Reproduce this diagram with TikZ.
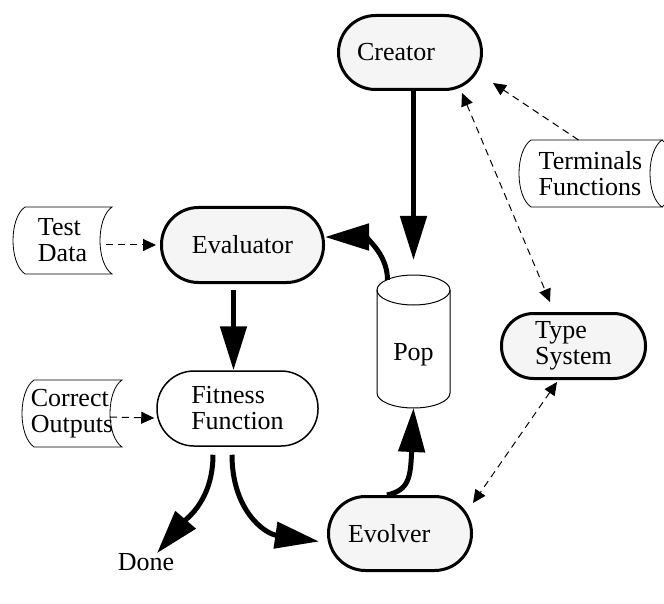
\documentclass[tikz,border=0pt]{standalone}
\usepackage{fontspec}
\setmainfont{Liberation Serif}
\usepackage{xcolor}
\usepackage{tikz}
\usetikzlibrary{arrows.meta,calc}
\definecolor{pillFill}{HTML}{F5F5F5}
% outline of a stored-data block drawn round a named node
\newcommand{\storeoutline}[1]{%
  \draw[storeline] ([xshift=12pt]#1.north west) -- (#1.north east)
    .. controls ([xshift=-16pt,yshift=-11pt]#1.north east) and ([xshift=-16pt,yshift=11pt]#1.south east) .. (#1.south east)
    -- ([xshift=12pt]#1.south west)
    .. controls ([xshift=-4pt,yshift=11pt]#1.south west) and ([xshift=-4pt,yshift=-11pt]#1.north west) .. cycle;}

\begin{document}
\begin{tikzpicture}[
    x=1pt,y=-1pt,
    txt/.style={font=\fontsize{26}{26}\selectfont},
    pill/.style={txt,draw,line width=3pt,fill=pillFill,rectangle,
                 rounded corners=37pt,inner sep=0pt},
    store/.style={txt,rectangle,inner sep=0pt,outer sep=0pt,align=left},
    storeline/.style={line width=0.8pt},
    popbody/.style={txt,rectangle,inner sep=0pt,outer sep=0pt,
                    minimum width=73pt,minimum height=118pt,
                    text height=27pt,text depth=5pt},
    bigarrow/.style={line width=5pt,-{Triangle[length=44pt,width=26pt]}},
    dasharrow/.style={line width=1pt,dash pattern=on 7pt off 5pt,
                      -{Triangle[length=13pt,width=12pt]}},
    dashboth/.style={dasharrow,
                     {Triangle[length=13pt,width=12pt]}-{Triangle[length=13pt,width=12pt]}}
  ]
  \useasboundingbox (0,0) rectangle (664,604);

  % processing stages
  \node[pill,minimum width=143pt,minimum height=74pt,text width=106pt,align=left]
    (creator) at (410,52.5) {Creator};
  \node[pill,minimum width=162pt,minimum height=75pt]
    (evaluator) at (242.5,245) {Evaluator};
  \node[pill,fill=white,line width=1.5pt,minimum width=161pt,minimum height=75pt,align=left]
    (fitness) at (237.5,408.5) {Fitness\\Function};
  \node[pill,minimum width=143pt,minimum height=74pt,text width=104pt,align=left]
    (evolver) at (400,533.5) {Evolver};
  \node[pill,minimum width=144pt,minimum height=65pt,rounded corners=32pt,align=left]
    (typesys) at (573.5,346) {Type\\System};
  \node[txt,inner sep=0pt] (done) at (146,562) {Done};

  % population store
  \node[popbody] (pop) at (413.5,349) {Pop};
  \draw[line width=1pt] (pop.north west) -- ([yshift=15pt]pop.south west)
    arc[start angle=180,end angle=360,x radius=36.5pt,y radius=15pt] -- (pop.north east);
  \draw[line width=1pt] (pop.north) ellipse [x radius=36.5pt,y radius=15pt];

  % data inputs
  \node[store,minimum width=99pt,minimum height=67pt] (testdata) at (62.5,240.5) {Test\\Data};
  \node[store,minimum width=100pt,minimum height=67pt] (correct) at (72,413.5) {Correct\\Outputs};
  \node[store,minimum width=143pt,minimum height=67pt] (terms) at (590.5,173.5) {Terminals\\Functions};
  \storeoutline{testdata}
  \storeoutline{correct}
  \storeoutline{terms}
  \draw[storeline] (terms.north east)
    .. controls ([xshift=16pt,yshift=-11pt]terms.north east) and ([xshift=16pt,yshift=11pt]terms.south east) .. (terms.south east);

  % main flow
  \draw[bigarrow] (creator.south -| pop.north) -- ([yshift=30pt]pop.north);
  \draw[bigarrow] ([xshift=-26pt,yshift=10pt]pop.north)
    .. controls +(0,-28) and +(38,0) .. ([yshift=8pt]evaluator.east);
  \draw[bigarrow] ([xshift=-9pt,yshift=-6pt]evaluator.south) -- ([xshift=-4pt]fitness.north);
  \draw[bigarrow] ([xshift=-24.5pt,yshift=-8pt]fitness.south)
    .. controls +(0,45) and +(30,-35) .. ([xshift=11pt]done.north);
  \draw[bigarrow] ([xshift=-5.5pt,yshift=-8pt]fitness.south)
    .. controls +(0,55) and +(-55,-8) .. ([xshift=-8pt,yshift=-8pt]evolver.west);
  \draw[bigarrow] ([xshift=-13pt]evolver.north)
    .. controls +(22,-5) and +(-3,70) .. (pop.south);

  % dashed links
  \draw[dasharrow] ([xshift=-6pt]testdata.east |- evaluator.west) -- ([xshift=-4pt]evaluator.west);
  \draw[dasharrow] ([xshift=-12pt,yshift=-3.5pt]correct.east) -- ([xshift=-2pt,yshift=-9.5pt]fitness.west);
  \draw[dasharrow] ([xshift=-12pt]terms.north) -- ([xshift=10pt,yshift=-30.5pt]creator.east);
  \draw[dashboth] ([xshift=52pt,yshift=-2pt]creator.south) -- ([xshift=-23.5pt,yshift=10pt]typesys.north);
  \draw[dashboth] ([xshift=-16.5pt,yshift=-2pt]typesys.south) -- ([yshift=30.5pt]evolver.east);
\end{tikzpicture}
\end{document}
